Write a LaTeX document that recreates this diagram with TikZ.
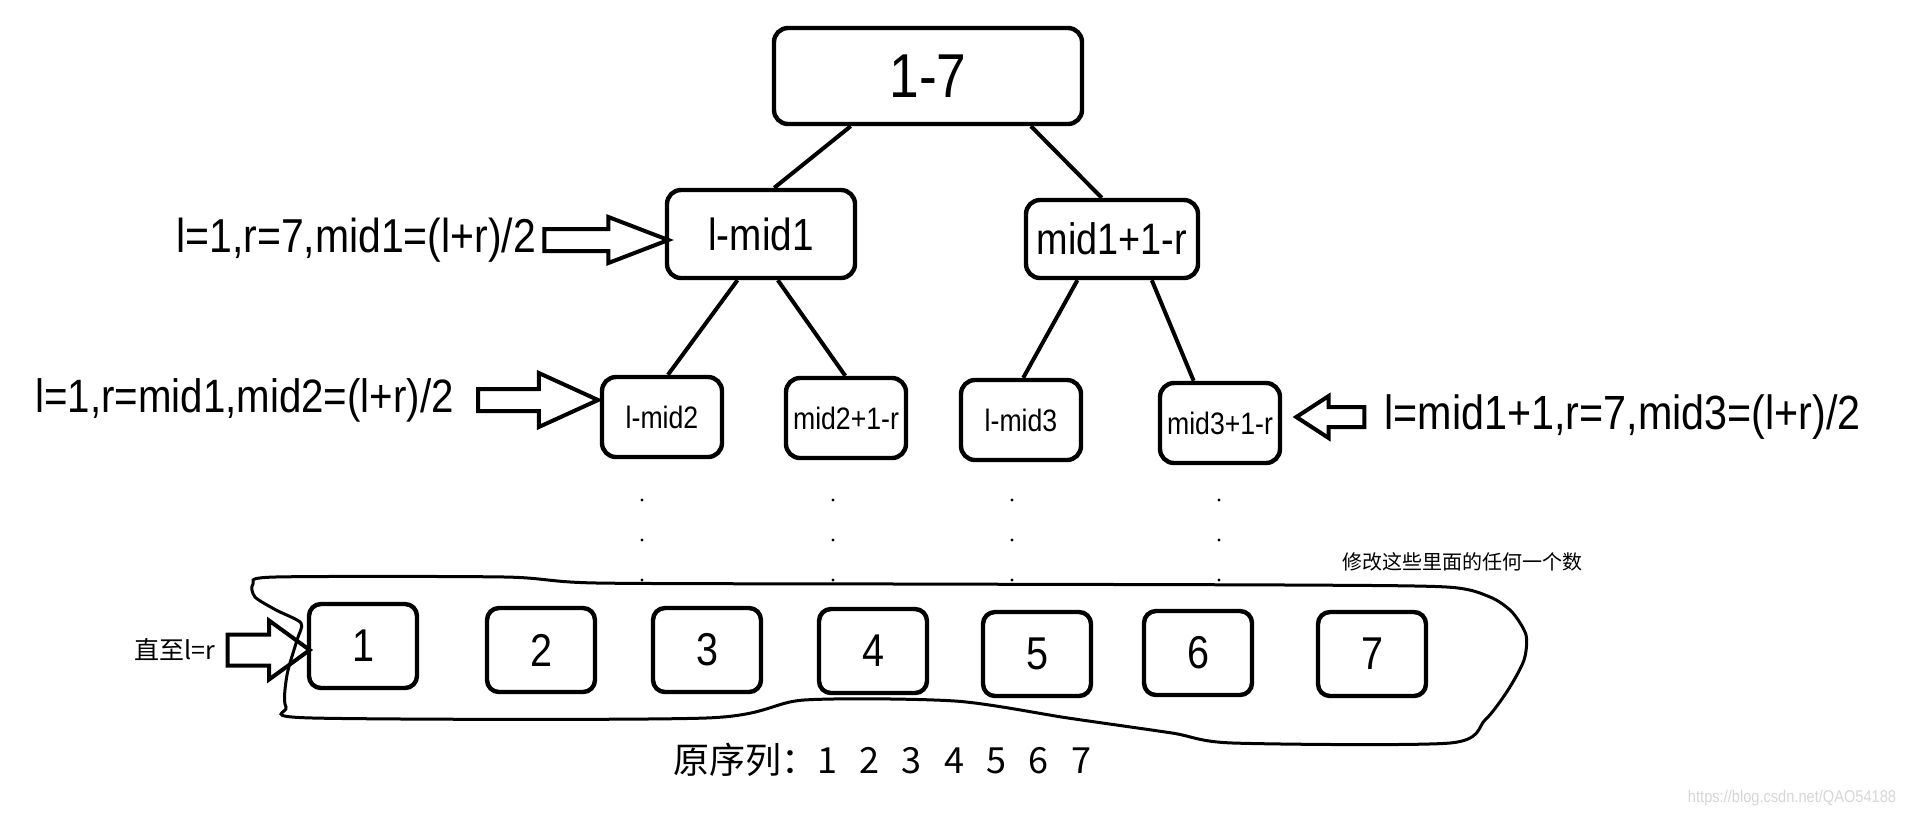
\documentclass[tikz,border=0pt]{standalone}
\usepackage{fontspec}
\setmainfont[FakeStretch=0.86]{Liberation Sans}
\newfontfamily\cjk{Noto Sans CJK SC}
\usepackage{tikz}
\usetikzlibrary{positioning,shapes.arrows}
\definecolor{MarkGray}{RGB}{214,214,214}
\newcommand{\numgap}{\hskip0.62em}

\begin{document}
\begin{tikzpicture}[
  x=0.5pt, y=-0.5pt,
  rangebox/.style={
    draw,
    rounded corners=7pt,
    line width=2.2pt,
    inner sep=0pt,
    align=center
  },
  cell/.style={rangebox, rounded corners=6pt, minimum width=54pt, minimum height=42pt, font=\fontsize{23}{26}\selectfont},
  leafbox/.style={rangebox, minimum width=60pt, minimum height=40pt, font=\fontsize{15.5}{18}\selectfont},
  joinline/.style={line width=2pt},
  bigarrow/.style={
    single arrow,
    draw,
    line width=2pt,
    inner xsep=0pt
  },
  sidelabel/.style={inner sep=0pt},
  note/.style={font=\cjk\fontsize{10}{12}\selectfont, inner sep=0pt}
]
\useasboundingbox (0,0) rectangle (1914,816);
\def\YRoot{76}

% tree of ranges
\node[rangebox, minimum width=154pt, minimum height=48pt, font=\fontsize{31}{36}\selectfont] (root) at (928,\YRoot) {1-7};
\node[rangebox, minimum width=94pt, minimum height=44pt, font=\fontsize{22.5}{26}\selectfont] (lmid1) at (761,234) {l-mid1};
\node[rangebox, minimum width=86pt, minimum height=39pt, font=\fontsize{22}{26}\selectfont] (rmid1) at (1112,239) {mid1+1-r};
\node[leafbox] (lmid2) at (662,417) {l-mid2};
\node[leafbox] (rmid2) at (846,418) {mid2+1-r};
\node[leafbox] (lmid3) at (1021,420) {l-mid3};
\node[leafbox] (rmid3) at (1220,423) {mid3+1-r};

\draw[joinline] (root.-147) -- (lmid1.74);
\draw[joinline] (root.-26) -- (rmid1.104);
\draw[joinline] (lmid1.-117) -- (lmid2.82);
\draw[joinline] (lmid1.-70) -- (rmid2.91);
\draw[joinline] (rmid1.-130) -- (lmid3.87);
\draw[joinline] (rmid1.-46) -- (rmid3.122);

\foreach \x in {642,833,1012,1219}
  \foreach \y in {500,540,580}
    \fill (\x,\y) circle (0.8pt);

% side notes with block arrows
\node[bigarrow, minimum height=62pt, inner ysep=4.5pt, single arrow head extend=6pt, single arrow tip angle=42] (arr1) at (592,240) {};
\node[sidelabel, left=3pt of arr1.tail, font=\fontsize{23.8}{28}\selectfont] (lab1) {l=1,r=7,mid1=(l+r)/2};
\node[bigarrow, minimum height=60pt, inner ysep=4.5pt, single arrow head extend=8pt, single arrow tip angle=49] (arr2) at (526,400) {};
\node[sidelabel, left=11pt of arr2.tail, font=\fontsize{23.4}{27}\selectfont] (lab2) {l=1,r=mid1,mid2=(l+r)/2};
\node[bigarrow, minimum height=34pt, inner ysep=4pt, single arrow head extend=5.5pt, single arrow tip angle=66, shape border rotate=180] (arr3) at (1338,417) {};
\node[sidelabel, right=9pt of arr3.tail, font=\fontsize{24}{28}\selectfont] (lab3) {l=mid1+1,r=7,mid3=(l+r)/2};

% the original cells
\draw[line width=1.5pt] plot[smooth cycle, tension=0.45] coordinates {
  (253,584) (275,577) (505,577) (597,583) (900,584) (1288,585) (1447,587)
  (1490,597) (1512,612) (1526,635) (1524,660) (1508,690) (1485,720) (1450,743)
  (1233,743) (1172,733) (1068,718) (955,701) (804,700) (706,718) (313,718)
  (286,707) (287,675) (297,640) (301,623) (276,610) (255,597)};

\foreach \n/\x/\y in {1/363/646,2/541/650,3/707/650,4/873/651,5/1037/654,6/1198/653,7/1372/654}
  \node[cell] (c\n) at (\x,\y) {\n};

\node[bigarrow, minimum height=41pt, inner ysep=6.75pt, single arrow head extend=7pt, single arrow tip angle=72] (arr4) at (258,650) {};
\node[note, left=5pt of arr4.tail, font=\cjk\fontsize{12.5}{14}\selectfont] (lab4) {直至l=r};

\node[note] (hint) at (1462,562) {修改这些里面的任何一个数};
\node[note, font=\cjk\fontsize{18}{22}\selectfont, anchor=west] (seq) at (673,760)
  {原序列：1\numgap 2\numgap 3\numgap 4\numgap 5\numgap 6\numgap 7};
\node[note, font=\fontsize{8.5}{10}\selectfont, text=MarkGray] (mark) at (1792,798) {https://blog.csdn.net/QAO54188};
\end{tikzpicture}
\end{document}
